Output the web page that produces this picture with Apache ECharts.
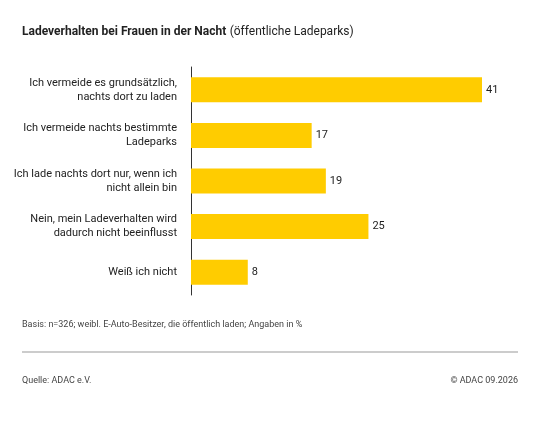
<!DOCTYPE html>
<html><head><meta charset="utf-8">
<script src="https://cdn.jsdelivr.net/npm/echarts@6/dist/echarts.min.js"></script>
<style>body{margin:0}#c{width:540px;height:431px}</style></head>
<body><div id="c"></div>
<script>
const categories = ["Ich vermeide es grundsätzlich,\nnachts dort zu laden","Ich vermeide nachts bestimmte\nLadeparks","Ich lade nachts dort nur, wenn ich\nnicht allein bin","Nein, mein Ladeverhalten wird\ndadurch nicht beeinflusst","Weiß ich nicht"];
const values = [41,17,19,25,8];
const ch = echarts.init(document.getElementById('c'));
const F = 'Roboto, sans-serif';
ch.setOption({
  animation:false,
  graphic:[
    {type:'text',left:22,top:26,style:{rich:{b:{fontWeight:'bold',fontSize:12,fontFamily:F,fill:'#222'},n:{fontSize:12,fontFamily:F,fill:'#222'}},text:'{b|Ladeverhalten bei Frauen in der Nacht} {n|(öffentliche Ladeparks)}'}},
    {type:'text',left:22,top:320,style:{text:'Basis: n=326; weibl. E-Auto-Besitzer, die öffentlich laden; Angaben in %',fontSize:9,fontFamily:F,fill:'#444'}},
    {type:'line',shape:{x1:22,y1:352,x2:518,y2:352},style:{stroke:'#999',lineWidth:1}},
    {type:'text',left:22,top:376,style:{text:'Quelle: ADAC e.V.',fontSize:9,fontFamily:F,fill:'#444'}},
    {type:'text',right:22,top:376,style:{text:'© ADAC 09.2026',fontSize:9,fontFamily:F,fill:'#444',align:'right'}}
  ],
  grid:{left:191,right:58,top:67,bottom:136},
  xAxis:{type:'value',min:0,max:41,show:false},
  yAxis:{type:'category',inverse:true,data:categories,axisTick:{show:false},
    axisLine:{lineStyle:{color:'#333'}},
    axisLabel:{fontSize:11,fontFamily:F,color:'#222',align:'right',margin:14,lineHeight:14}},
  series:[{type:'bar',data:values,barWidth:25,itemStyle:{color:'#FFCC00'},
    label:{show:true,position:'right',fontSize:11,fontFamily:F,color:'#222',distance:4}}]
});
</script></body></html>
